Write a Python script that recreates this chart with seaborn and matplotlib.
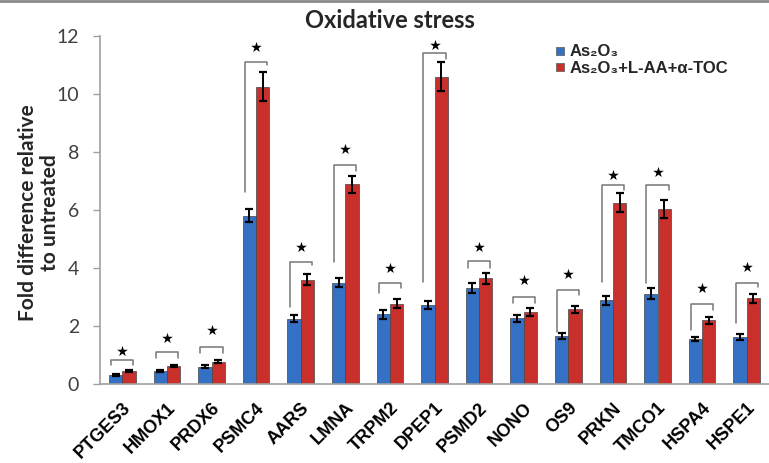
import numpy as np
import pandas as pd
import matplotlib
matplotlib.use("Agg")
import matplotlib.pyplot as plt
from matplotlib.lines import Line2D
import seaborn as sns

genes = ["PTGES3", "HMOX1", "PRDX6", "PSMC4", "AARS", "LMNA", "TRPM2", "DPEP1",
         "PSMD2", "NONO", "OS9", "PRKN", "TMCO1", "HSPA4", "HSPE1"]
treatments = ["As₂O₃", "As₂O₃+L-AA+α-TOC"]

as2o3 = [0.30, 0.45, 0.60, 5.80, 2.25, 3.50, 2.40, 2.72, 3.32, 2.27, 1.65, 2.88, 3.12, 1.55, 1.63]
combo = [0.46, 0.62, 0.77, 10.25, 3.60, 6.88, 2.77, 10.60, 3.64, 2.48, 2.58, 6.25, 6.03, 2.20, 2.95]
as2o3_err = [0.03, 0.03, 0.04, 0.22, 0.12, 0.15, 0.15, 0.15, 0.18, 0.12, 0.10, 0.15, 0.18, 0.08, 0.10]
combo_err = [0.04, 0.04, 0.05, 0.50, 0.18, 0.30, 0.15, 0.50, 0.18, 0.15, 0.12, 0.32, 0.30, 0.12, 0.15]

# significance brackets: top height, left leg bottom, right leg bottom
br_top = [0.83, 1.10, 1.29, 11.10, 4.22, 7.55, 3.48, 11.40, 4.24, 3.01, 3.24, 6.86, 6.86, 2.76, 3.48]
br_left = [0.65, 0.90, 1.07, 6.63, 2.67, 4.22, 3.14, 3.53, 4.00, 2.79, 1.80, 3.53, 3.48, 1.86, 2.10]
br_right = [0.65, 0.90, 1.07, 11.00, 4.10, 7.35, 3.30, 11.20, 4.00, 2.79, 3.07, 6.70, 6.70, 2.55, 3.36]
star_y = [1.15, 1.58, 1.86, 11.63, 4.73, 8.10, 4.00, 11.69, 4.73, 3.59, 3.79, 7.20, 7.32, 3.32, 4.05]

df = pd.DataFrame({
    "gene": genes * 2,
    "treatment": [treatments[0]] * len(genes) + [treatments[1]] * len(genes),
    "value": as2o3 + combo,
})

sns.set_theme(style="white")
plt.rcParams["font.family"] = ["Liberation Sans", "DejaVu Sans"]

W, H = 769, 463
fig = plt.figure(figsize=(W / 100, H / 100), dpi=100)
ax = fig.add_axes([100 / W, 1 - 384 / H, 669 / W, (384 - 36) / H])

blue = "#3470c4"
red = "#c9302c"
sns.barplot(data=df, x="gene", y="value", hue="treatment", order=genes,
            hue_order=treatments, palette=[blue, red], width=0.6,
            errorbar=None, ax=ax, saturation=1, linewidth=0.5,
            edgecolor="#444444")

errs = [as2o3_err, combo_err]
for cont, err in zip(ax.containers, errs):
    xs = [b.get_x() + b.get_width() / 2 for b in cont]
    ys = [b.get_height() for b in cont]
    ax.errorbar(xs, ys, yerr=err, fmt="none", ecolor="black",
                elinewidth=1.4, capsize=3, capthick=1.6, zorder=5)

bracket_color = "#777777"
for i in range(len(genes)):
    xl, xr = i - 0.25, i + 0.25
    ax.plot([xl, xl, xr, xr], [br_left[i], br_top[i], br_top[i], br_right[i]],
            color=bracket_color, lw=1.1, zorder=4, solid_joinstyle="round")
    ax.scatter([i], [star_y[i]], marker="*", s=65, color="black", zorder=6,
               linewidths=0)

ax.set_xlim(-0.5, len(genes) - 0.5)
ax.set_ylim(0, 12)
ax.set_yticks(np.arange(0, 13, 2))
ax.set_yticklabels([str(v) for v in range(0, 13, 2)], fontsize=14,
                   color="#404040", family=["Lato", "DejaVu Sans"])
ax.set_xticks(range(len(genes)))
ax.set_xticklabels(genes, rotation=45, ha="right", rotation_mode="anchor",
                   fontsize=13, fontweight="bold", color="black")
ax.tick_params(axis="x", which="major", length=0, pad=11)
ax.set_xticks(np.arange(-0.5, len(genes), 1), minor=True)
ax.tick_params(axis="x", which="minor", length=5, color="#a0a0a0", width=1)
ax.tick_params(axis="y", length=5, color="#a0a0a0", width=1, left=True, pad=10)

for s in ["top", "right"]:
    ax.spines[s].set_visible(False)
for s in ["left", "bottom"]:
    ax.spines[s].set_color("#a0a0a0")
    ax.spines[s].set_linewidth(1.2)

ax.set_xlabel("")
ax.set_ylabel("Fold difference relative\nto untreated", fontsize=15,
              fontweight="bold", family=["Lato", "DejaVu Sans"],
              linespacing=1.15)
ax.yaxis.set_label_coords((60 - 100) / 669, (384 - 213) / 348)

handles = [Line2D([], [], marker="s", ls="", markersize=6, markerfacecolor=c,
                  markeredgecolor="#555555", markeredgewidth=0.5)
           for c in (blue, red)]
ax.legend(handles, treatments, loc="upper left", bbox_to_anchor=(0.67, 0.995),
          frameon=False, handlelength=0.6, handletextpad=0.3,
          labelspacing=0.1, borderaxespad=0, prop={"weight": "bold", "size": 12})

fig.text(390 / W, 1 - 20 / H, "Oxidative stress", ha="center", va="center",
         fontsize=17, fontweight="bold", family=["Lato", "DejaVu Sans"])

fig.add_artist(Line2D([0, 1], [1 - 1 / H, 1 - 1 / H], color="#8a8a8a", lw=2,
                      transform=fig.transFigure))

fig.savefig("out.png", dpi=100)
